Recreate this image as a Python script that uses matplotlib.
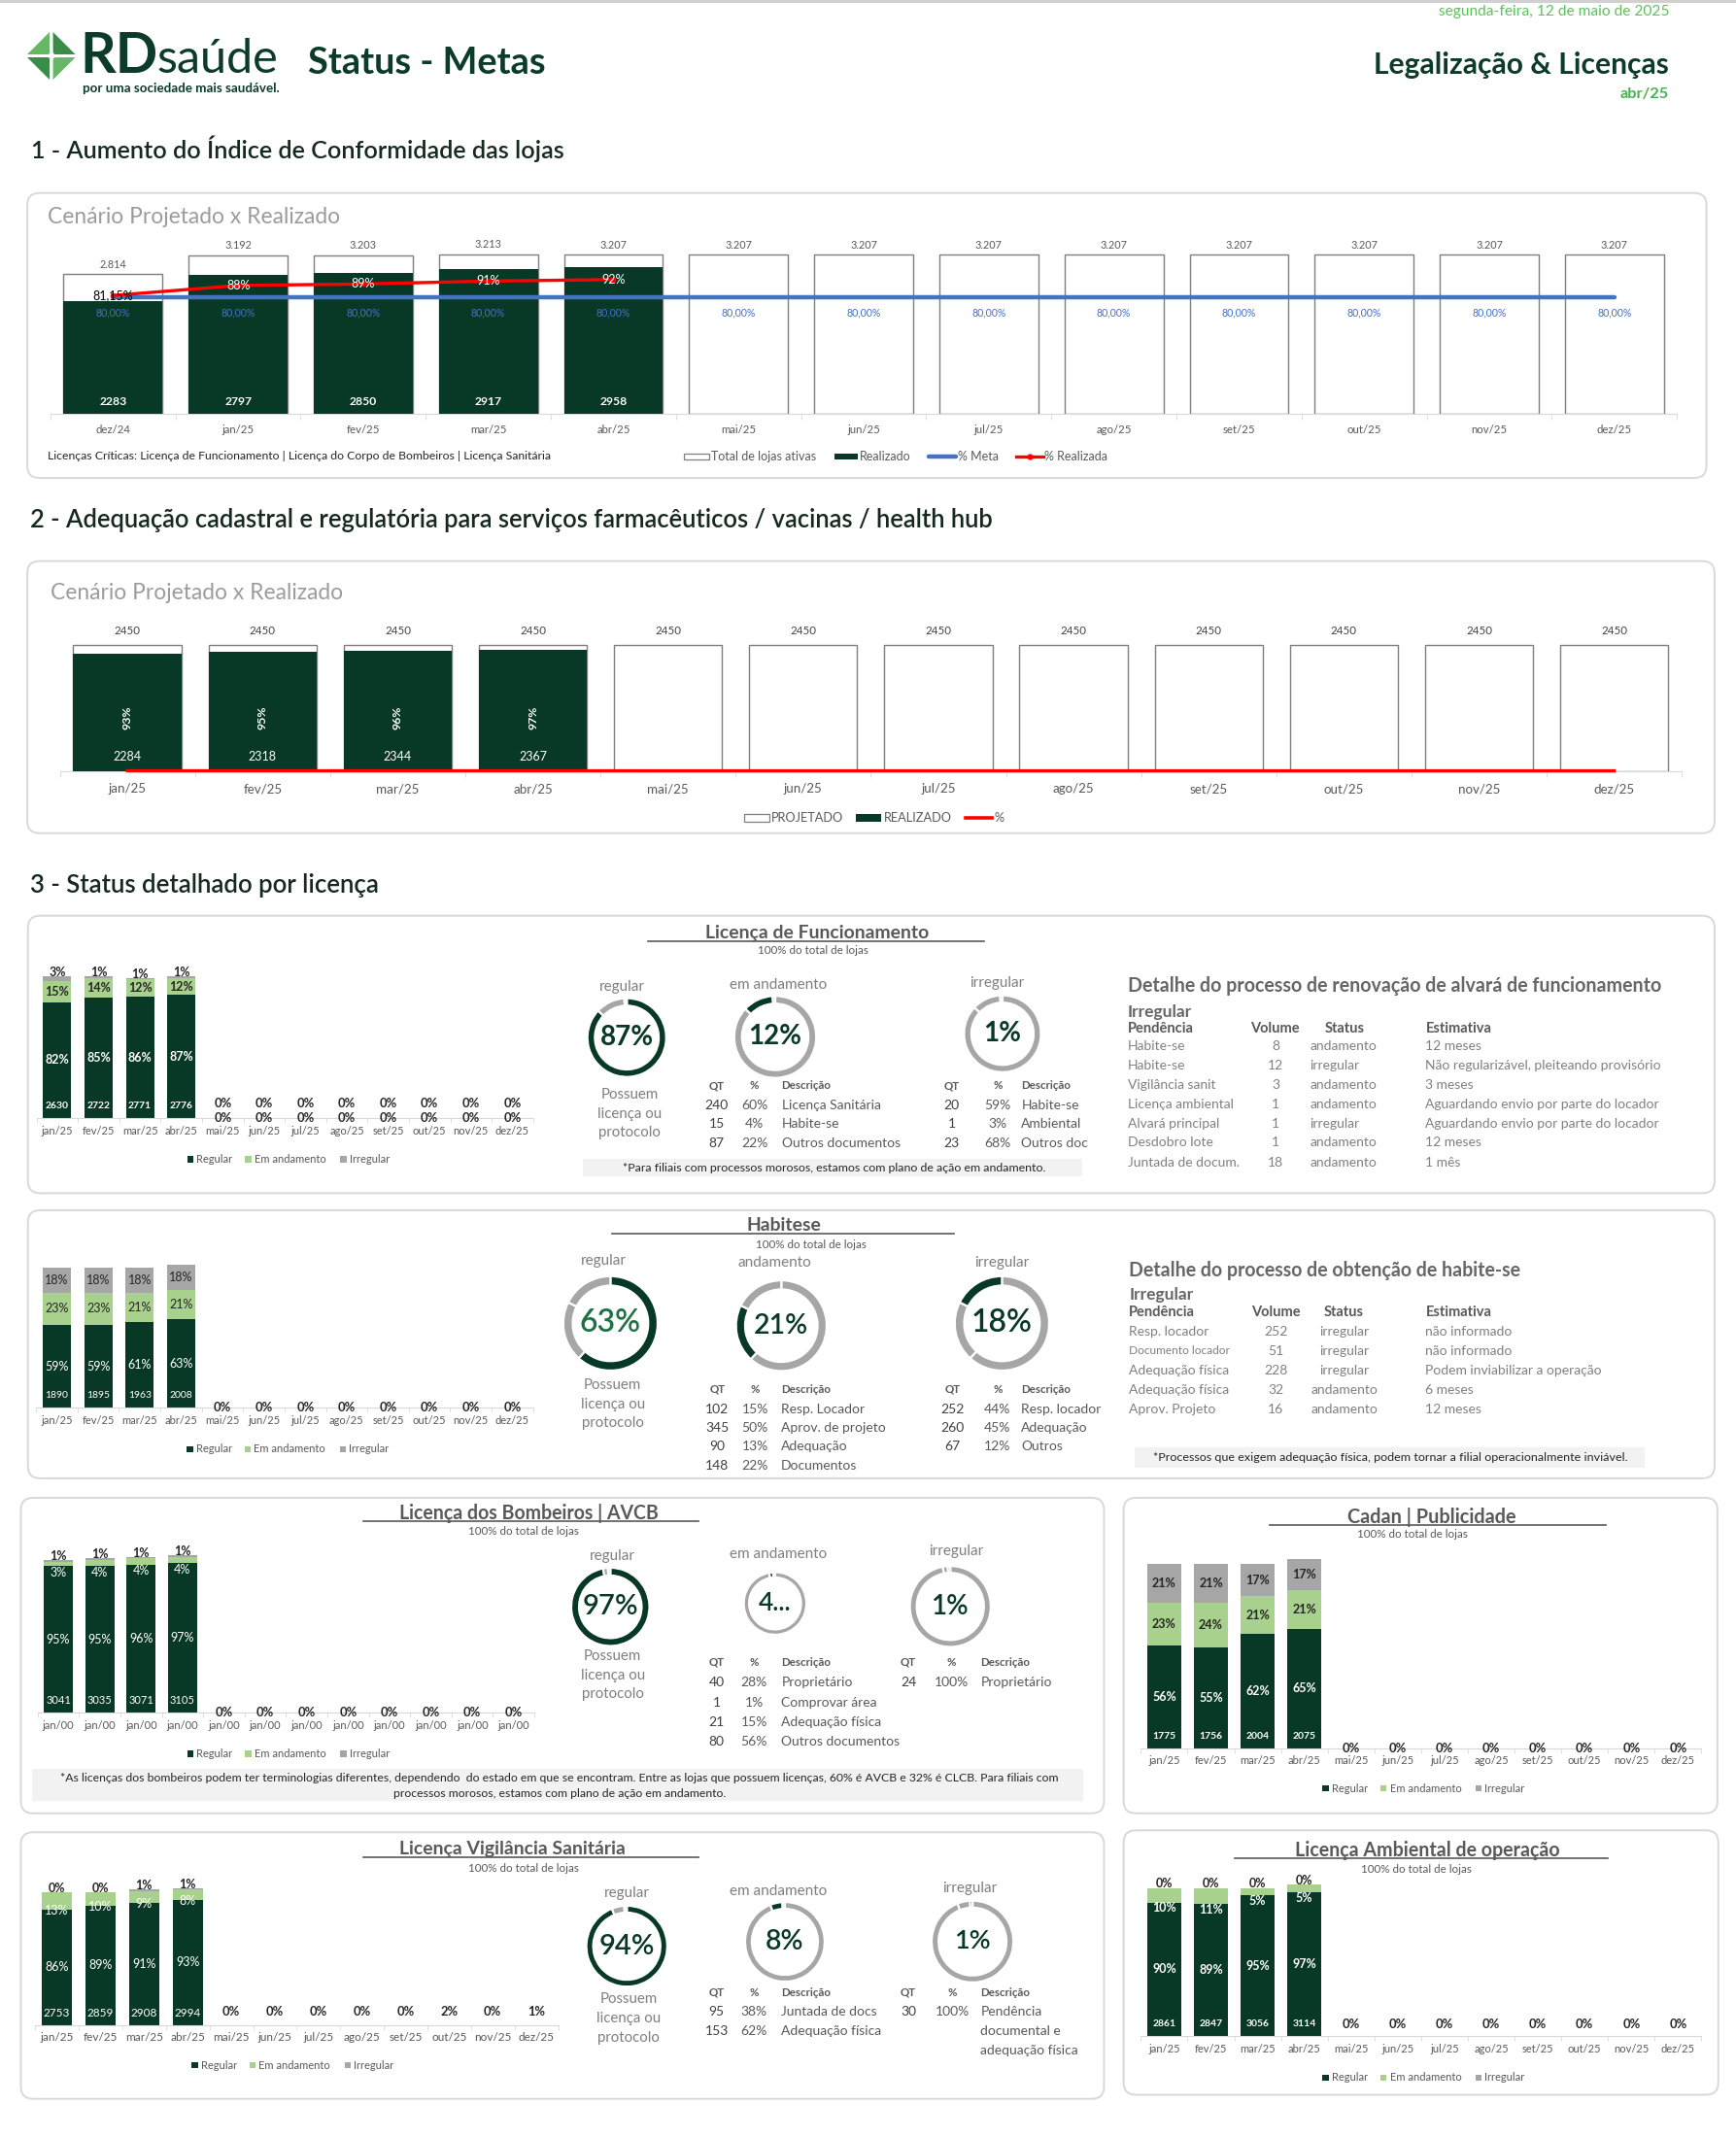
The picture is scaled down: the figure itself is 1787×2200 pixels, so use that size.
import matplotlib
matplotlib.use('Agg')
import matplotlib.pyplot as plt
from matplotlib.patches import FancyBboxPatch, Rectangle, Polygon
import numpy as np

plt.rcParams['font.family'] = ['Lato', 'DejaVu Sans']

# ===================== DATA =====================
p1_months = ['dez/24', 'jan/25', 'fev/25', 'mar/25', 'abr/25', 'mai/25', 'jun/25',
             'jul/25', 'ago/25', 'set/25', 'out/25', 'nov/25', 'dez/25']
p1_total = [2814, 3192, 3203, 3213, 3207, 3207, 3207, 3207, 3207, 3207, 3207, 3207, 3207]
p1_real = [2283, 2797, 2850, 2917, 2958]
p1_meta = [0.80, 0.80, 0.80, 0.80, 0.80, 0.80, 0.80, 0.80, 0.80, 0.80, 0.80, 0.80, 0.80]
p1_pct = [0.8115, 0.88, 0.89, 0.91, 0.92]
p1_pct_lbl = ['81,15%', '88%', '89%', '91%', '92%']

months25 = ['jan/25', 'fev/25', 'mar/25', 'abr/25', 'mai/25', 'jun/25',
            'jul/25', 'ago/25', 'set/25', 'out/25', 'nov/25', 'dez/25']
months00 = ['jan/00', 'jan/00', 'jan/00', 'jan/00', 'jan/00', 'jan/00',
            'jan/00', 'jan/00', 'jan/00', 'jan/00', 'jan/00', 'jan/00']

p2_proj = [2450, 2450, 2450, 2450, 2450, 2450, 2450, 2450, 2450, 2450, 2450, 2450]
p2_real = [2284, 2318, 2344, 2367]
p2_pct = [0.93, 0.95, 0.96, 0.97, 0, 0, 0, 0, 0, 0, 0, 0]

lf_reg = [82, 85, 86, 87, 0, 0, 0, 0, 0, 0, 0, 0]
lf_and = [15, 14, 12, 12, 0, 0, 0, 0, 0, 0, 0, 0]
lf_irr = [3, 1, 1, 1, 0, 0, 0, 0, 0, 0, 0, 0]
lf_cnt = [2630, 2722, 2771, 2776]
lf_zero = ['0%', '0%', '0%', '0%', '0%', '0%', '0%', '0%']
lf_donut = [87, 12, 1]
lf_donut_txt = ['87%', '12%', '1%']
lf_and_tbl = [('240', '60%', 'Licença Sanitária'), ('15', '4%', 'Habite-se'),
              ('87', '22%', 'Outros documentos')]
lf_irr_tbl = [('20', '59%', 'Habite-se'), ('1', '3%', 'Ambiental'), ('23', '68%', 'Outros doc')]
lf_detail = [('Habite-se', '8', 'andamento', '12 meses'),
             ('Habite-se', '12', 'irregular', 'Não regularizável, pleiteando provisório'),
             ('Vigilância sanit', '3', 'andamento', '3 meses'),
             ('Licença ambiental', '1', 'andamento', 'Aguardando envio por parte do locador'),
             ('Alvará principal', '1', 'irregular', 'Aguardando envio por parte do locador'),
             ('Desdobro lote', '1', 'andamento', '12 meses'),
             ('Juntada de docum.', '18', 'andamento', '1 mês')]

hab_reg = [59, 59, 61, 63, 0, 0, 0, 0, 0, 0, 0, 0]
hab_and = [23, 23, 21, 21, 0, 0, 0, 0, 0, 0, 0, 0]
hab_irr = [18, 18, 18, 18, 0, 0, 0, 0, 0, 0, 0, 0]
hab_cnt = [1890, 1895, 1963, 2008]
hab_zero = ['0%', '0%', '0%', '0%', '0%', '0%', '0%', '0%']
hab_donut = [63, 21, 18]
hab_donut_txt = ['63%', '21%', '18%']
hab_and_tbl = [('102', '15%', 'Resp. Locador'), ('345', '50%', 'Aprov. de projeto'),
               ('90', '13%', 'Adequação'), ('148', '22%', 'Documentos')]
hab_irr_tbl = [('252', '44%', 'Resp. locador'), ('260', '45%', 'Adequação'), ('67', '12%', 'Outros')]
hab_detail = [('Resp. locador', '252', 'irregular', 'não informado'),
              ('Documento locador', '51', 'irregular', 'não informado'),
              ('Adequação física', '228', 'irregular', 'Podem inviabilizar a operação'),
              ('Adequação física', '32', 'andamento', '6 meses'),
              ('Aprov. Projeto', '16', 'andamento', '12 meses')]

bom_reg = [95, 95, 96, 97, 0, 0, 0, 0, 0, 0, 0, 0]
bom_and = [3, 4, 4, 4, 0, 0, 0, 0, 0, 0, 0, 0]
bom_irr = [1, 1, 1, 1, 0, 0, 0, 0, 0, 0, 0, 0]
bom_cnt = [3041, 3035, 3071, 3105]
bom_zero = ['0%', '0%', '0%', '0%', '0%', '0%', '0%', '0%']
bom_donut = [97, 2, 1]
bom_donut_txt = ['97%', '4...', '1%']
bom_and_tbl = [('40', '28%', 'Proprietário'), ('1', '1%', 'Comprovar área'),
               ('21', '15%', 'Adequação física'), ('80', '56%', 'Outros documentos')]
bom_irr_tbl = [('24', '100%', 'Proprietário')]

cad_reg = [56, 55, 62, 65, 0, 0, 0, 0, 0, 0, 0, 0]
cad_and = [23, 24, 21, 21, 0, 0, 0, 0, 0, 0, 0, 0]
cad_irr = [21, 21, 17, 17, 0, 0, 0, 0, 0, 0, 0, 0]
cad_cnt = [1775, 1756, 2004, 2075]
cad_zero = ['0%', '0%', '0%', '0%', '0%', '0%', '0%', '0%']

vis_reg = [86, 89, 91, 93, 0, 0, 0, 0, 0, 0, 0, 0]
vis_and = [13, 10, 9, 8, 0, 0, 0, 0, 0, 0, 0, 0]
vis_irr = [0, 0, 1, 1, 0, 0, 0, 0, 0, 0, 0, 0]
vis_cnt = [2753, 2859, 2908, 2994]
vis_zero = ['0%', '0%', '0%', '0%', '0%', '2%', '0%', '1%']
vis_donut = [94, 5, 1]
vis_donut_txt = ['94%', '8%', '1%']
vis_and_tbl = [('95', '38%', 'Juntada de docs'), ('153', '62%', 'Adequação física')]
vis_irr_tbl = [('30', '100%', 'Pendência'), ('', '', 'documental e'), ('', '', 'adequação física')]

amb_reg = [90, 89, 95, 97, 0, 0, 0, 0, 0, 0, 0, 0]
amb_and = [10, 11, 5, 5, 0, 0, 0, 0, 0, 0, 0, 0]
amb_irr = [0, 0, 0, 0, 0, 0, 0, 0, 0, 0, 0, 0]
amb_cnt = [2861, 2847, 3056, 3114]
amb_zero = ['0%', '0%', '0%', '0%', '0%', '0%', '0%', '0%']

# ===================== STYLE =====================
DARK = '#083826'
LIGHT = '#a9d18e'
GRAY = '#a6a6a6'
BLUE = '#4472c4'
RED = '#ff0000'
TXT = '#595959'
TDARK = '#0d3b2a'

W, H = 1787, 2200
DW, DH = 1274.0, 1568.0
SX = W / DW
fig = plt.figure(figsize=(W / 100, H / 100), dpi=100)
fig.patch.set_facecolor('white')
bg = fig.add_axes([0, 0, 1, 1], zorder=-5)
bg.set_xlim(0, DW)
bg.set_ylim(DH, 0)
bg.axis('off')
REND = fig.canvas.get_renderer()


def frect(x0, y0, x1, y1):
    return [x0 / DW, 1 - y1 / DH, (x1 - x0) / DW, (y1 - y0) / DH]


def T(x, y, s, size=9, color=TXT, ha='left', va='center', weight='normal', fitw=None, **kw):
    t = bg.text(x, y, s, fontsize=size, color=color, ha=ha, va=va, fontweight=weight, **kw)
    if fitw:
        bb = t.get_window_extent(REND)
        t.set_fontsize(size * fitw * SX / bb.width)
    return t


def panel(x0, y0, x1, y1):
    bg.add_patch(FancyBboxPatch((x0, y0), x1 - x0, y1 - y0,
                                boxstyle='round,pad=0,rounding_size=9',
                                fc='white', ec='#d9d9d9', lw=1.4, zorder=0))


def fmt_thou(v):
    return f'{v:,}'.replace(',', '.')


# ===================== HEADER =====================
bg.plot([0, DW], [0.8, 0.8], color='#d0d0d0', lw=3)
cx, cy, hw, hh, gp = 37.8, 41.0, 17.5, 17.5, 1.1
g1, g2 = '#66b866', '#3a8c4a'
quads = [([(cx - gp, cy - hh), (cx - gp, cy - gp), (cx - hw, cy - gp)], g1),
         ([(cx + gp, cy - hh), (cx + hw, cy - gp), (cx + gp, cy - gp)], g2),
         ([(cx - hw, cy + gp), (cx - gp, cy + gp), (cx - gp, cy + hh)], g2),
         ([(cx + gp, cy + gp), (cx + hw, cy + gp), (cx + gp, cy + hh)], g1)]
for pts, c in quads:
    bg.add_patch(Polygon(pts, closed=True, fc=c, ec='none'))
bg.add_patch(Polygon([(cx, cy - 6), (cx + 2, cy), (cx, cy + 6), (cx - 2, cy)], fc='white', ec='none'))
bg.add_patch(Polygon([(cx - 6, cy), (cx, cy - 2), (cx + 6, cy), (cx, cy + 2)], fc='white', ec='none'))
T(58.5, 53.5, 'RD', size=30, color=TDARK, weight='bold', va='baseline', fitw=57)
T(115.4, 53.5, 'saúde', size=30, color=TDARK, va='baseline', fitw=89)
T(60.9, 64.6, 'por uma sociedade mais saudável.', size=8.5, color=TDARK, weight='bold', fitw=144)
T(225.8, 46.3, 'Status - Metas', size=22, color=TDARK, weight='bold', fitw=174)
T(1225, 8.8, 'segunda-feira, 12 de maio de 2025', size=10, color='#5cc25c', ha='right', fitw=169)
T(1225, 47.5, 'Legalização & Licenças', size=20, color=TDARK, ha='right', weight='bold', fitw=216)
T(1225, 68.9, 'abr/25', size=11, color='#4caf50', ha='right', weight='bold', fitw=36)

T(22.7, 109.3, '1 - Aumento do Índice de Conformidade das lojas', size=17, color='#15291f',
  weight='semibold', fitw=391)
T(22, 381.5, '2 - Adequação cadastral e regulatória para serviços farmacêuticos / vacinas / health hub',
  size=17, color='#15291f', weight='semibold', fitw=707)
T(22, 650, '3 - Status detalhado por licença', size=17, color='#15291f', weight='semibold', fitw=256)

# ===================== PANEL 1 =====================
panel(20, 141.6, 1252.3, 350.7)
T(35, 159.2, 'Cenário Projetado x Realizado', size=15, color='#9c9c9c', fitw=213.7)
x0c, x1c = 82.9, 1184.8
sp = (x1c - x0c) / 12
base1, top1 = 303.7, 165.0
ax1 = fig.add_axes(frect(x0c - sp / 2, top1, x1c + sp / 2, base1))
ax1.patch.set_alpha(0)
n1 = len(p1_months)
xx = np.arange(n1)
ax1.bar(xx, p1_total, 0.79, color='white', edgecolor='#7f7f7f', lw=1.0, zorder=2)
ax1.bar(np.arange(len(p1_real)), p1_real, 0.79, color=DARK, zorder=3)
ax1.set_xlim(-0.5, n1 - 0.5)
ax1.set_ylim(0, 3207 * (base1 - top1) / (base1 - 187.0))
for s in ['top', 'left', 'right']:
    ax1.spines[s].set_visible(False)
ax1.spines['bottom'].set_color('#d9d9d9')
ax1.set_yticks([])
ax1.set_xticks(xx)
ax1.set_xticklabels(p1_months, fontsize=8.2, color=TXT)
ax1.set_xticks(np.arange(-0.5, n1, 1), minor=True)
ax1.tick_params(axis='x', which='major', length=0, pad=8)
ax1.tick_params(axis='x', which='minor', length=4, color='#d9d9d9')
for i, v in enumerate(p1_total):
    ax1.annotate(fmt_thou(v), (i, v), xytext=(0, 7.4), textcoords='offset points',
                 ha='center', va='center', fontsize=7.8, color=TXT)
for i, v in enumerate(p1_real):
    ax1.annotate(str(v), (i, 0), xytext=(0, 8.8), textcoords='offset points',
                 ha='center', va='center', fontsize=8.7, color='white', fontweight='bold', zorder=6)
ax2 = ax1.twinx()
ax2.patch.set_alpha(0)
ax2.set_ylim(0, (base1 - top1) / 1.071 / 100)
for s in ax2.spines.values():
    s.set_visible(False)
ax2.set_yticks([])
ax2.plot(xx, p1_meta, color=BLUE, lw=3.2, solid_capstyle='round', zorder=4)
for i, v in enumerate(p1_meta):
    ax2.annotate(f'{v * 100:.2f}%'.replace('.', ','), (i, v), xytext=(0, -11.7), textcoords='offset points',
                 ha='center', va='center', fontsize=7.6, color=BLUE)
ax2.plot(np.arange(len(p1_pct)), p1_pct, color=RED, lw=2.4, marker='o', ms=3, zorder=5)
for i, (v, l) in enumerate(zip(p1_pct, p1_pct_lbl)):
    ax2.text(i, v, l, ha='center', va='center', fontsize=9, color='black' if i == 0 else 'white', zorder=7)
T(34.6, 334.5, 'Licenças Críticas: Licença de Funcionamento | Licença do Corpo de Bombeiros | Licença Sanitária',
  size=8, color='#262626', fitw=374)
bg.add_patch(Rectangle((501.9, 332.7), 18.5, 4.7, fc='white', ec='#7f7f7f', lw=0.9))
T(521.6, 335, 'Total de lojas ativas', size=9, color=TXT)
bg.add_patch(Rectangle((612.2, 332.7), 17, 4.7, fc=DARK, ec='none'))
T(630.6, 335, 'Realizado', size=9, color=TXT)
bg.plot([681.4, 701.4], [335, 335], color=BLUE, lw=3.2, solid_capstyle='round')
T(702.6, 335, '% Meta', size=9, color=TXT)
bg.plot([745.4, 765.4], [335, 335], color=RED, lw=2.4)
bg.plot([755.4], [335], color=RED, marker='o', ms=3.5)
T(766.6, 335, '% Realizada', size=9, color=TXT)

# ===================== PANEL 2 =====================
panel(20, 411.7, 1258.3, 611.3)
T(37.4, 434.8, 'Cenário Projetado x Realizado', size=15, color='#9c9c9c', fitw=214.4)
x0c, x1c = 93.5, 1184.6
sp = (x1c - x0c) / 11
base2, top2 = 565.6, 440.0
ax3 = fig.add_axes(frect(x0c - sp / 2, top2, x1c + sp / 2, base2))
ax3.patch.set_alpha(0)
n2 = len(months25)
xx = np.arange(n2)
ax3.bar(xx, p2_proj, 0.8, color='white', edgecolor='#7f7f7f', lw=1.0, zorder=2)
ax3.bar(np.arange(len(p2_real)), p2_real, 0.8, color=DARK, zorder=3)
ax3.plot(xx, p2_pct, color=RED, lw=2.4, zorder=4, clip_on=False)
ax3.set_xlim(-0.5, n2 - 0.5)
ax3.set_ylim(0, 2450 * (base2 - top2) / (base2 - 473.6))
for s in ['top', 'left', 'right']:
    ax3.spines[s].set_visible(False)
ax3.spines['bottom'].set_color('#d9d9d9')
ax3.set_yticks([])
ax3.set_xticks(xx)
ax3.set_xticklabels(months25, fontsize=9.6, color=TXT)
ax3.set_xticks(np.arange(-0.5, n2, 1), minor=True)
ax3.tick_params(axis='x', which='major', length=0, pad=9)
ax3.tick_params(axis='x', which='minor', length=4, color='#d9d9d9')
for i, v in enumerate(p2_proj):
    ax3.annotate(str(v), (i, v), xytext=(0, 10.7), textcoords='offset points',
                 ha='center', va='center', fontsize=8.3, color='#404040')
for i, v in enumerate(p2_real):
    ax3.annotate(str(v), (i, 0), xytext=(0, 10.8), textcoords='offset points',
                 ha='center', va='center', fontsize=9, color='white', zorder=6)
    ax3.annotate(f'{p2_pct[i] * 100:.0f}%', (i, 0), xytext=(0, 39.6), textcoords='offset points',
                 ha='center', va='center', fontsize=8.9, color='white', fontweight='bold', rotation=90, zorder=6)
bg.add_patch(Rectangle((546.1, 597), 18.2, 5.8, fc='white', ec='#7f7f7f', lw=0.9))
T(565.9, 600, 'PROJETADO', size=9.2, color=TXT)
bg.add_patch(Rectangle((628.4, 597), 18.2, 5.8, fc=DARK, ec='none'))
T(649, 600, 'REALIZADO', size=9.2, color=TXT)
bg.plot([708.4, 728.1], [600, 600], color=RED, lw=2.6)
T(729.7, 600, '%', size=9.2, color=TXT)


# ===================== SECTION 3 HELPERS =====================
def ptitle(cx, y, s, fitw, ux0, ux1, uy, scx, sy):
    T(cx, y, s, size=12, color=TXT, ha='center', weight='bold', fitw=fitw)
    bg.plot([ux0, ux1], [uy, uy], color='#595959', lw=1.2)
    T(scx, sy, '100% do total de lojas', size=8.4, color=TXT, ha='center')


def stacked(xc0, xc1, top, base, bw, reg, andm, irr, cnt, months, zero_labels, zero_y,
            and_mode, and_color, irr_mode, weight='bold', lsize=9, csize=7.5, tsize=8):
    # and_mode: 'center' -> label at segment centre; number -> label centred at top of the
    # regular segment shifted by that many points
    n = len(months)
    sp = (xc1 - xc0) / (n - 1)
    ax_top = top - 22
    ax = fig.add_axes(frect(xc0 - sp / 2, ax_top, xc1 + sp / 2, base))
    ax.patch.set_alpha(0)
    reg = np.array(reg, float)
    andm = np.array(andm, float)
    irr = np.array(irr, float)
    x = np.arange(n)
    ax.bar(x, reg, bw, color=DARK, zorder=2)
    ax.bar(x, andm, bw, bottom=reg, color=LIGHT, zorder=2)
    ax.bar(x, irr, bw, bottom=reg + andm, color=GRAY, zorder=2)
    ax.set_xlim(-0.5, n - 0.5)
    ax.set_ylim(0, 100 * (base - ax_top) / (base - top))
    for s in ['top', 'left', 'right']:
        ax.spines[s].set_visible(False)
    ax.spines['bottom'].set_color('#d9d9d9')
    ax.set_yticks([])
    ax.set_xticks(x)
    ax.set_xticklabels(months, fontsize=tsize, color=TXT)
    ax.set_xticks(np.arange(-0.5, n, 1), minor=True)
    ax.tick_params(axis='x', which='major', length=0, pad=5.5)
    ax.tick_params(axis='x', which='minor', length=3.5, color='#d9d9d9')
    for i in range(len(cnt)):
        tot = reg[i] + andm[i] + irr[i]
        ax.text(i, reg[i] / 2, f'{reg[i]:.0f}%', ha='center', va='center', fontsize=lsize,
                color='white', fontweight=weight, zorder=5)
        ax.annotate(str(cnt[i]), (i, 0), xytext=(0, 9), textcoords='offset points', ha='center',
                    va='center', fontsize=csize, color='white', fontweight=weight, zorder=5)
        if and_mode == 'center':
            ax.text(i, reg[i] + andm[i] / 2, f'{andm[i]:.0f}%', ha='center', va='center', fontsize=lsize,
                    color=and_color, fontweight=weight, zorder=5)
        else:
            ax.annotate(f'{andm[i]:.0f}%', (i, reg[i]), xytext=(0, and_mode), textcoords='offset points',
                        ha='center', va='center', fontsize=lsize, color=and_color, fontweight=weight, zorder=5)
        if irr_mode == 'center':
            ax.text(i, reg[i] + andm[i] + irr[i] / 2, f'{irr[i]:.0f}%', ha='center', va='center',
                    fontsize=lsize, color='#262626', fontweight=weight, zorder=5)
        else:
            ax.annotate(f'{irr[i]:.0f}%', (i, tot), xytext=(0, 3), textcoords='offset points',
                        ha='center', va='center', fontsize=lsize, color='#262626', fontweight='bold', zorder=6)
    for yv in zero_y:
        for j, lab in enumerate(zero_labels):
            ax.text(len(cnt) + j, yv, lab, ha='center', va='center', fontsize=9.3,
                    color='#262626', fontweight='bold', zorder=5, clip_on=False)
    return ax


def legend3(x0, y):
    items = [(0, DARK, 'Regular'), (42.5, LIGHT, 'Em andamento'), (112.3, GRAY, 'Irregular')]
    for dx, c, lab in items:
        bg.add_patch(Rectangle((x0 + dx, y - 2.4), 4.6, 4.8, fc=c, ec='none'))
        T(x0 + dx + 6.8, y, lab, size=8, color=TXT)


def donut(cx, cy, r, vals, hi, txt, tsize, tcolor=DARK, ring=0.19, weight='bold'):
    ax = fig.add_axes(frect(cx - r, cy - r, cx + r, cy + r))
    cols = [GRAY] * len(vals)
    cols[hi] = DARK
    ax.pie(vals, colors=cols, startangle=90, counterclock=False, radius=1,
           wedgeprops=dict(width=ring, edgecolor='white', linewidth=1.6))
    ax.set_xlim(-1.01, 1.01)
    ax.set_ylim(-1.01, 1.01)
    ax.set_aspect('equal')
    ax.axis('off')
    ax.text(0, 0, txt, ha='center', va='center', fontsize=tsize, color=tcolor, fontweight=weight)


def qtable(xq, xp, xd, yh, rows_y, rows, size=10):
    T(xq, yh, 'QT', size=8.3, color=TXT, ha='center', weight='bold')
    T(xp, yh, '%', size=8.3, color=TXT, ha='center', weight='bold')
    T(xd, yh, 'Descrição', size=8.3, color=TXT, weight='bold')
    for yy, (q, p, d) in zip(rows_y, rows):
        T(xq, yy, q, size=size, color='#404040', ha='center')
        T(xp, yy, p, size=size, color=TXT, ha='center')
        T(xd, yy, d, size=size, color=TXT)


def possuem(x, ys):
    for yy, s in zip(ys, ['Possuem', 'licença ou', 'protocolo']):
        T(x, yy, s, size=10.8, color='#7f7f7f', ha='center')


def footnote(x0, y0, x1, y1, lines, ys, cx, fitw):
    bg.add_patch(Rectangle((x0, y0), x1 - x0, y1 - y0, fc='#f2f2f2', ec='none'))
    t = T(cx, ys[0], lines[0], size=8, color='#262626', ha='center', fitw=fitw)
    for s, yy in zip(lines[1:], ys[1:]):
        T(cx, yy, s, size=t.get_fontsize(), color='#262626', ha='center')


# ===================== LICENÇA DE FUNCIONAMENTO =====================
panel(20.5, 671.9, 1258.3, 875.5)
stacked(42.0, 376.0, 716.5, 820.6, 0.68, lf_reg, lf_and, lf_irr, lf_cnt, months25, lf_zero, [10.5, 0.3],
        'center', '#262626', 'above')
legend3(137.3, 850.7)
ptitle(600, 684.4, 'Licença de Funcionamento', 163, 475.2, 722.4, 690.3, 597, 697.5)
T(456.8, 723.8, 'regular', size=11, color='#7f7f7f', ha='center')
T(571, 722.4, 'em andamento', size=11, color='#7f7f7f', ha='center')
T(731.9, 721, 'irregular', size=11, color='#7f7f7f', ha='center')
donut(460, 761.3, 29.2, lf_donut, 0, lf_donut_txt[0], 20)
donut(568.9, 760.8, 30.4, lf_donut, 1, lf_donut_txt[1], 20)
donut(735.7, 758.5, 28.5, lf_donut, 2, lf_donut_txt[2], 20)
possuem(462, [803.2, 817.5, 831.3])
qtable(525.9, 553.6, 573.6, 796.6, [811, 824.9, 839.1], lf_and_tbl)
qtable(698.4, 732.4, 749.5, 796.6, [811, 824.9, 839.1], lf_irr_tbl)
footnote(427.7, 850.3, 794.2, 863.1,
         ['*Para filiais com processos morosos, estamos com plano de ação em andamento.'], [857.4], 612.4, 313.3)

T(827.7, 723.6, 'Detalhe do processo de renovação de alvará de funcionamento', size=12, color='#666666',
  weight='bold', fitw=389.6)
T(827.7, 743, 'Irregular', size=12.5, color='#666666', weight='bold')
T(827.7, 755, 'Pendência', size=10.5, color='#595959', weight='bold')
T(935.4, 755, 'Volume', size=10.5, color='#595959', weight='bold', ha='center')
T(986.9, 755, 'Status', size=10.5, color='#595959', weight='bold', ha='center')
T(1046.2, 755, 'Estimativa', size=10.5, color='#595959', weight='bold')
for yy, (a, b, c, d) in zip([767.8, 782.1, 795.9, 810.2, 824.5, 838.3, 853], lf_detail):
    T(827.7, yy, a, size=10, color='#808080')
    T(936, yy, b, size=10, color='#808080', ha='center')
    T(961.4, yy, c, size=10, color='#808080')
    T(1046.2, yy, d, size=10, color='#808080')

# ===================== HABITESE =====================
panel(20.5, 888, 1258.3, 1084.7)
stacked(41.7, 376.0, 930.0, 1033.0, 0.68, hab_reg, hab_and, hab_irr, hab_cnt, months25, hab_zero, [0.3],
        'center', '#262626', 'center', weight='normal', csize=7.5)
legend3(137.0, 1063.3)
ptitle(575.4, 899.3, 'Habitese', 54.6, 449, 700.4, 905.2, 595.2, 913.5)
T(443.3, 925, 'regular', size=11, color='#7f7f7f', ha='center')
T(568.2, 926.6, 'andamento', size=11, color='#7f7f7f', ha='center')
T(735.2, 926.6, 'irregular', size=11, color='#7f7f7f', ha='center')
donut(448, 971, 35, hab_donut, 0, hab_donut_txt[0], 23, tcolor='#1e7145', ring=0.2, weight='semibold')
donut(573.4, 972.7, 33.6, hab_donut, 1, hab_donut_txt[1], 20.5, ring=0.2, weight='semibold')
donut(735.3, 971, 35, hab_donut, 2, hab_donut_txt[2], 23, ring=0.2, weight='semibold')
possuem(449.6, [1016.4, 1030.6, 1044.2])
qtable(526.3, 554, 573, 1019.2, [1034, 1047.8, 1061.6, 1075.6], hab_and_tbl)
qtable(698.9, 732, 749.5, 1019.2, [1034, 1047.8, 1061.6], hab_irr_tbl)
T(828.6, 931.9, 'Detalhe do processo de obtenção de habite-se', size=12, color='#666666',
  weight='bold', fitw=285.7)
T(828.6, 950.3, 'Irregular', size=12.5, color='#666666', weight='bold')
T(828.6, 963, 'Pendência', size=10.5, color='#595959', weight='bold')
T(936.2, 963, 'Volume', size=10.5, color='#595959', weight='bold', ha='center')
T(971.7, 963, 'Status', size=10.5, color='#595959', weight='bold')
T(1046.2, 963, 'Estimativa', size=10.5, color='#595959', weight='bold')
for yy, (a, b, c, d) in zip([977.2, 991.4, 1005.7, 1020, 1034.2], hab_detail):
    T(828.6, yy, a, size=8.6 if a.startswith('Documento') else 10, color='#808080')
    T(936.2, yy, b, size=10, color='#808080', ha='center')
    T(986.5, yy, c, size=10, color='#808080', ha='center')
    T(1046.2, yy, d, size=10, color='#808080')
footnote(832.6, 1062, 1206.8, 1076.7,
         ['*Processos que exigem adequação física, podem tornar a filial operacionalmente inviável.'],
         [1069.4], 1020.7, 348.2)

# ===================== BOMBEIROS =====================
panel(15.3, 1099, 810.2, 1330.5)
stacked(42.8, 377.0, 1143.5, 1256.7, 0.7, bom_reg, bom_and, bom_irr, bom_cnt, months00, bom_zero, [0.3],
        -4.8, 'white', 'above', weight='normal', csize=8)
legend3(137.5, 1287)
ptitle(388.5, 1110.7, 'Licença dos Bombeiros | AVCB', 189.4, 266.3, 512.3, 1116.2, 384.5, 1123.8)
T(449.6, 1141.6, 'regular', size=11, color='#7f7f7f', ha='center')
T(570.8, 1140.4, 'em andamento', size=11, color='#7f7f7f', ha='center')
T(701.7, 1138, 'irregular', size=11, color='#7f7f7f', ha='center')
donut(447.9, 1179, 29, bom_donut, 0, bom_donut_txt[0], 21, ring=0.2, weight='semibold')
donut(568.8, 1176.5, 23.2, bom_donut, 1, bom_donut_txt[1], 19, ring=0.17, weight='semibold')
donut(697.4, 1178.7, 30, bom_donut, 2, bom_donut_txt[2], 20, ring=0.17, weight='semibold')
possuem(449.6, [1215, 1229.3, 1242.8])
qtable(526, 553.5, 573.4, 1219.6, [1234.1, 1249.3, 1263.6, 1277.8], bom_and_tbl)
qtable(666.6, 698.2, 719.6, 1219.6, [1234.1], bom_irr_tbl)
footnote(23.4, 1297.6, 795, 1321.3,
         ['*As licenças dos bombeiros podem ter terminologias diferentes, dependendo  do estado em que se encontram. '
          'Entre as lojas que possuem licenças, 60% é AVCB e 32% é CLCB. Para filiais com',
          'processos morosos, estamos com plano de ação em andamento.'],
         [1304.7, 1316.1], 410.4, 737.3)

# ===================== CADAN =====================
panel(824.6, 1099, 1260.4, 1330.5)
stacked(854.4, 1231.5, 1147.8, 1282.8, 0.73, cad_reg, cad_and, cad_irr, cad_cnt, months25, cad_zero, [0.0],
        'center', '#262626', 'center')
legend3(970.6, 1312.2)
ptitle(1051, 1113.2, 'Cadan | Publicidade', 123.2, 931.8, 1178.5, 1119.3, 1036.4, 1125.9)

# ===================== VIGILÂNCIA SANITÁRIA =====================
panel(15.3, 1344.4, 810.2, 1540)
stacked(41.8, 393.6, 1387.4, 1485.8, 0.7, vis_reg, vis_and, vis_irr, vis_cnt, months25, vis_zero, [10.0],
        -0.8, 'white', 'above', weight='normal', csize=8.5, tsize=8.5)
legend3(140.5, 1515.3)
ptitle(375.8, 1356.6, 'Licença Vigilância Sanitária', 165, 266.3, 512.3, 1362.5, 384.5, 1370.9)
T(459.9, 1389.4, 'regular', size=11, color='#7f7f7f', ha='center')
T(570.8, 1387.6, 'em andamento', size=11, color='#7f7f7f', ha='center')
T(712, 1385.4, 'irregular', size=11, color='#7f7f7f', ha='center')
donut(460, 1428, 30, vis_donut, 0, vis_donut_txt[0], 21, ring=0.17, weight='semibold')
donut(576, 1424.8, 29.5, vis_donut, 1, vis_donut_txt[1], 20.5, ring=0.17, weight='semibold')
donut(713.7, 1424.6, 30.3, vis_donut, 2, vis_donut_txt[2], 19.5, ring=0.17, weight='semibold')
possuem(461.3, [1466.9, 1481.2, 1495.2])
qtable(526, 553.5, 573.4, 1462, [1476.4, 1490.5], vis_and_tbl)
qtable(666.6, 698.9, 719.6, 1462, [1476.4, 1490.5, 1504.3], vis_irr_tbl)

# ===================== AMBIENTAL =====================
panel(824.6, 1343, 1261, 1537)
stacked(854.4, 1231.5, 1385.2, 1494.0, 0.73, amb_reg, amb_and, amb_irr, amb_cnt, months25, amb_zero, [8.0],
        -4.0, 'white', 'above')
legend3(970.6, 1524.5)
ptitle(1047.3, 1357.8, 'Licença Ambiental de operação', 193.6, 905.8, 1179.8, 1363.7, 1039.7, 1371.5)

fig.savefig('out.png', dpi=100, facecolor='white')
